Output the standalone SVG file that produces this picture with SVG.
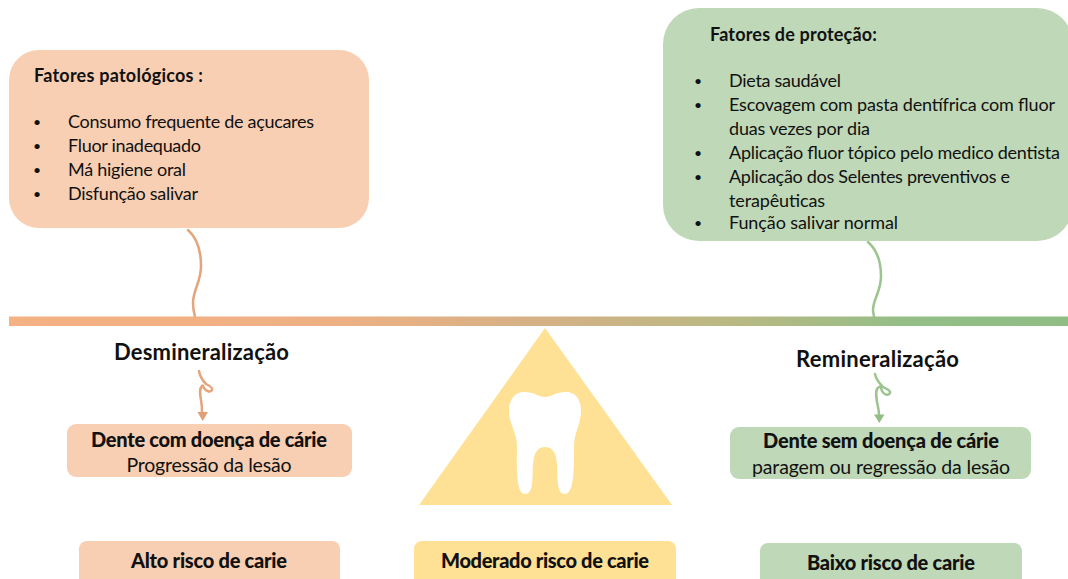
<svg xmlns="http://www.w3.org/2000/svg" width="1068" height="579" viewBox="0 0 1068 579">
<style>
text{font-family:"Lato","Liberation Sans",sans-serif;fill:#111;font-size:18px}
.b{font-weight:700}
.h{font-size:22px;font-weight:700}
.d{font-size:20px;font-weight:900}
.s{font-size:19.500px}
.u{font-size:14px}
.c{text-anchor:middle}
.or{fill:#f8cfb3}.gr{fill:#bfd8b8}.ye{fill:#ffe196}
.lo{fill:none;stroke:#e4a47c;stroke-width:2.500;stroke-linecap:round}
.lg{fill:none;stroke:#9cc48f;stroke-width:2.500;stroke-linecap:round}
</style>
<defs>
<linearGradient id="bar" x1="9" x2="1068" y1="0" y2="0" gradientUnits="userSpaceOnUse">
<stop offset="0" stop-color="#f4b183"/><stop offset="0.3" stop-color="#eeb083"/><stop offset="0.5" stop-color="#d5b186"/><stop offset="0.7" stop-color="#b6b983"/><stop offset="0.85" stop-color="#93be87"/><stop offset="1" stop-color="#8fbd84"/>
</linearGradient>
</defs>
<g id="connectors">
<path class="lo" d="M188 230C197 238 201 250 201 266C201 282 193 290 193 303C193 309 194 313 195 317"/>
<path class="lo" d="M199 371C200 377 203 381 206 384C210 386 213 388 212 390C210 393 206 391 204 388C203 386 203 385 202 386C199 389 200 394 201 400C202 405 202 409 202 412"/>
<path d="M197.500 412L208 412L202.700 421Z" fill="#dd9f73"/>
<path class="lg" d="M868 242C877 250 881 262 881 276C881 292 873 299 873 310C873 313 874 315 874 317"/>
<path class="lg" d="M875 374C876 379 879 383 883 387C887 389 891 391 890 393C888 396 884 395 882 391C881 388 881 386 879 387C875 389 876 396 877 402C878 407 879 411 879 415"/>
<path d="M874 414.500L884.500 414.500L879.300 423Z" fill="#93bd85"/>
</g>
<g id="bar-axis"><rect x="9" y="316.500" width="1059" height="9.500" fill="url(#bar)"/></g>
<g id="fatores-patologicos">
<rect class="or" x="9" y="50" width="360" height="178" rx="30"/>
<text class="b" x="34" y="82" textLength="169">Fatores patológicos :</text>
<text class="u" x="33" y="127">•</text><text x="68" y="128" textLength="246">Consumo frequente de açucares</text>
<text class="u" x="33" y="151">•</text><text x="68" y="152" textLength="133">Fluor inadequado</text>
<text class="u" x="33" y="175">•</text><text x="68" y="176" textLength="118">Má higiene oral</text>
<text class="u" x="33" y="199">•</text><text x="68" y="200" textLength="130">Disfunção salivar</text>
</g>
<g id="fatores-protecao">
<rect class="gr" x="663" y="8" width="410" height="233" rx="36"/>
<text class="b" x="710" y="41" textLength="167">Fatores de proteção:</text>
<text class="u" x="694" y="86">•</text><text x="729" y="87" textLength="112">Dieta saudável</text>
<text class="u" x="694" y="110">•</text><text x="729" y="111" textLength="326">Escovagem com pasta dentífrica com fluor</text>
<text x="729" y="135" textLength="141">duas vezes por dia</text>
<text class="u" x="694" y="158">•</text><text x="729" y="159" textLength="331">Aplicação fluor tópico pelo medico dentista</text>
<text class="u" x="694" y="182">•</text><text x="729" y="183" textLength="281">Aplicação dos Selentes preventivos e</text>
<text x="729" y="207" textLength="96">terapêuticas</text>
<text class="u" x="694" y="228">•</text><text x="729" y="229" textLength="169">Função salivar normal</text>
</g>
<g id="desmineralizacao"><text class="h" x="114" y="360" textLength="175">Desmineralização</text></g>
<g id="remineralizacao"><text class="h" x="796" y="367" textLength="163">Remineralização</text></g>
<g id="triangulo">
<path class="ye" d="M545 328L672 505L419 505Z"/>
<path fill="#fff" d="M545 397C551 397 556 392 566 392C576 392 581 400 581 411C581 424 574 433 574 446C574 462 575 494 565 494C556 494 558 478 557 464C556 452 552 447 545 447C538 447 534 452 533 464C532 478 534 494 525 494C515 494 517 462 517 446C517 433 509 424 509 411C509 400 514 392 524 392C534 392 539 397 545 397Z"/>
</g>
<g id="dente-com-doenca">
<rect class="or" x="67" y="424" width="285" height="53" rx="9"/>
<text class="d c" x="209" y="447" textLength="236">Dente com doença de cárie</text>
<text class="s c" x="209" y="472" textLength="165">Progressão da lesão</text>
</g>
<g id="dente-sem-doenca">
<rect class="gr" x="730" y="427" width="301" height="52" rx="9"/>
<text class="d c" x="881" y="448" textLength="236">Dente sem doença de cárie</text>
<text class="s c" x="881" y="474" textLength="258">paragem ou regressão da lesão</text>
</g>
<g id="alto-risco">
<rect class="or" x="79" y="541" width="261" height="48" rx="8"/>
<text class="d c" x="209" y="568" textLength="156">Alto risco de carie</text>
</g>
<g id="moderado-risco">
<rect class="ye" x="414" y="541" width="262" height="48" rx="8"/>
<text class="d c" x="545" y="568" textLength="208">Moderado risco de carie</text>
</g>
<g id="baixo-risco">
<rect class="gr" x="760" y="543" width="262" height="46" rx="8"/>
<text class="d c" x="891" y="570" textLength="168">Baixo risco de carie</text>
</g>
</svg>
